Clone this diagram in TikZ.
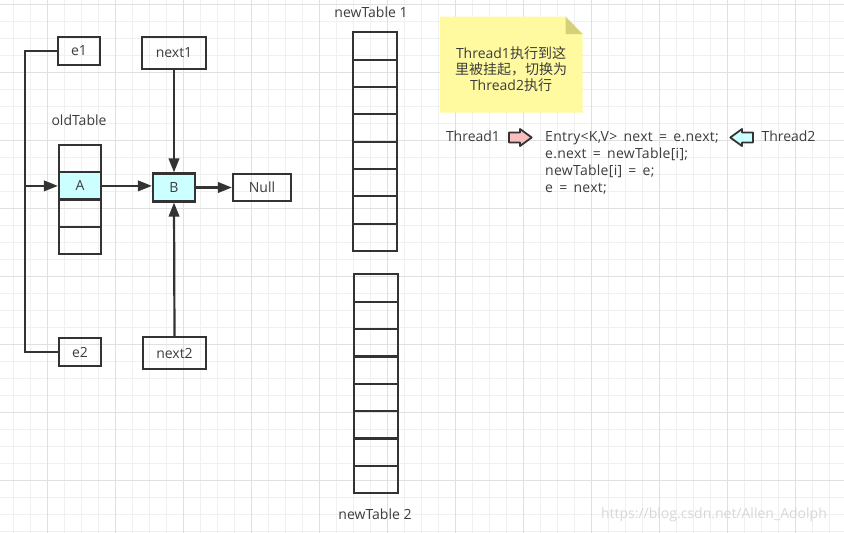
\documentclass[tikz,border=0pt]{standalone}
\usepackage{fontspec}
\setmainfont{Open Sans}
\newfontfamily\cjk{Noto Sans CJK SC}
\newfontfamily\codefont[WordSpace=1.6,LetterSpace=2]{Open Sans}
\usetikzlibrary{arrows.meta}
\definecolor{ink}{RGB}{51,51,51}
\definecolor{txt}{RGB}{60,60,60}
\definecolor{cyanfill}{RGB}{204,255,255}
\definecolor{notefill}{RGB}{255,250,160}
\definecolor{notefold}{RGB}{214,208,120}
\definecolor{pinkfill}{RGB}{250,190,190}
\definecolor{gridminor}{RGB}{240,240,240}
\definecolor{gridmajor}{RGB}{224,224,224}
\definecolor{wmark}{RGB}{215,215,215}
\begin{document}
\begin{tikzpicture}[x=1pt,y=-1pt,
  basefont/.style={font=\fontsize{14}{16}\selectfont, text=txt},
  box/.style={draw=ink, line width=2.2pt, inner sep=0pt, basefont},
  cell/.style={box, minimum width=42pt, minimum height=27.25pt},
  ncell/.style={box, minimum width=43.4pt, minimum height=27.35pt},
  label/.style={basefont, inner sep=0pt},
  codeline/.style={font=\codefont\fontsize{14}{16}\selectfont, text=txt, inner sep=0pt, anchor=west, text height=10.5pt, text depth=3pt},
  conn/.style={draw=ink, line width=2.2pt},
  arr/.style={conn, -{Triangle[length=14pt,width=10.5pt]}},
  blockarrow/.style={draw=ink, line width=1.8pt, line join=round},
]
\useasboundingbox (0,0) rectangle (844,533);
% background grid
\foreach \i in {0,...,49} \draw[gridminor, line width=1pt] (13.3+17*\i,0) -- (13.3+17*\i,533);
\foreach \j in {0,...,31} \draw[gridminor, line width=1pt] (0,4.7+17*\j) -- (844,4.7+17*\j);
\foreach \i in {0,...,11} \draw[gridmajor, line width=1pt] (47.3+68*\i,0) -- (47.3+68*\i,533);
\foreach \j in {0,...,7} \draw[gridmajor, line width=1pt] (0,4.7+68*\j) -- (844,4.7+68*\j);

% pointers
\node[box, minimum width=42pt, minimum height=28pt] (e1) at (79,51) {e1};
\node[box, minimum width=64pt, minimum height=32pt] (next1) at (174,53) {next1};
\node[box, minimum width=42pt, minimum height=28pt] (e2) at (80,352) {e2};
\node[box, minimum width=63pt, minimum height=32pt] (next2) at (174.5,353) {next2};

% old table
\node[label] (oldlbl) at (79,120) {oldTable};
\node[cell] (o1) at (80,158.6) {};
\node[cell, fill=cyanfill] (A) at (80,185.9) {A};
\node[cell] (o3) at (80,213.1) {};
\node[cell] (o4) at (80,240.4) {};

\node[box, fill=cyanfill, minimum width=42pt, minimum height=28pt] (B) at (174,187.5) {B};
\node[box, minimum width=58pt, minimum height=27pt] (null) at (262,187.5) {Null};

% connectors
\coordinate (lx) at (25,185.9);
\draw[arr] (e1.west) -| (lx) -- (A.west);
\draw[conn] (e2.west) -| (lx);
\draw[arr] (A.east) -- (A.east -| B.west);
\draw[arr] (next1.south) -- (B.north);
\draw[arr] (next2.north) -- (B.south);
\draw[arr] (B.east) -- (null.west);

% new tables
\node[label] (nt1lbl) at (371,12) {newTable 1};
\foreach \k in {0,...,7} \node[ncell] (na\k) at (375,32.3+27.34*\k+13.67) {};
\node[label] (nt2lbl) at (375,514) {newTable 2};
\foreach \k in {0,...,7} \node[ncell] (nb\k) at (376,274.3+27.375*\k+13.69) {};

% sticky note
\fill[notefill] (440,16.7) -- (565.5,16.7) -- (582.7,34) -- (582.7,112.7) -- (440,112.7) -- cycle;
\fill[notefold] (565.5,16.7) -- (565.5,34) -- (582.7,34) -- cycle;
\node[label, align=center] (note) at (511,69.5) {Thread1{\cjk 执行到这}\\{\cjk 里被挂起，切换为}\\Thread2{\cjk 执行}};

% code
\node[label] (t1) at (473,136.7) {Thread1};
\draw[blockarrow, fill=pinkfill] (509,132.5) -- (520,132.5) -- (520,129) -- (531.7,137.5) -- (520,146) -- (520,142.5) -- (509,142.5) -- cycle;
\node[codeline] (c1) at (545,137.7) {Entry<K,V> next = e.next;};
\node[codeline] (c2) at (545,155) {e.next = newTable[i];};
\node[codeline] (c3) at (545,171.7) {newTable[i] = e;};
\node[codeline] (c4) at (545,189) {e = next;};
\draw[blockarrow, fill=cyanfill] (753,132.5) -- (742,132.5) -- (742,129) -- (730.3,137.5) -- (742,146) -- (742,142.5) -- (753,142.5) -- cycle;
\node[label] (t2) at (788.5,136.7) {Thread2};

% watermark
\node[label, text=wmark] (wm) at (714,515) {https://blog.csdn.net/Allen\_Adolph};
\end{tikzpicture}
\end{document}
